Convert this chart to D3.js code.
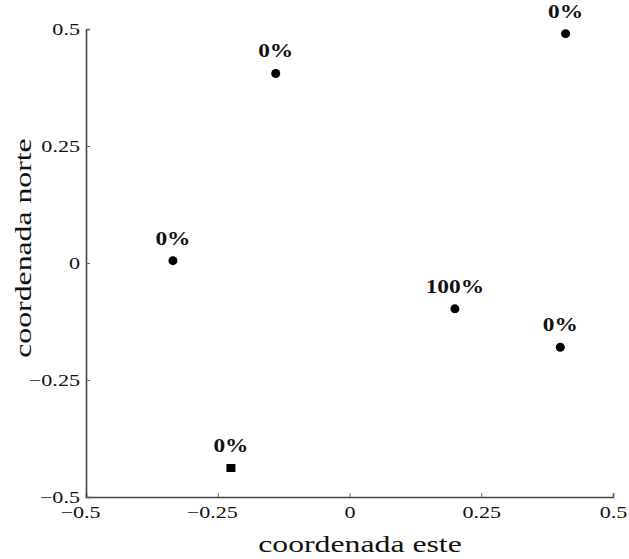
<!DOCTYPE html>
<html>
<head>
<meta charset="utf-8">
<script src="https://cdn.jsdelivr.net/npm/d3@7"></script>
<style>
  body { margin: 0; background: #fff; }
  svg text { font-family: "Liberation Serif", "DejaVu Serif", serif; fill: #111; }
</style>
</head>
<body>
<div id="chart"></div>
<script>
// points: east, north, label
var pointEast  = [-0.14, 0.41, -0.335, 0.20, 0.40];
var pointNorth = [0.405, 0.49, 0.005, -0.098, -0.18];
var pointLabel = ["0%", "0%", "0%", "100%", "0%"];
// the square marker
var squareEast = [-0.225], squareNorth = [-0.438], squareLabel = ["0%"];
// centre cross
var centreEast = [0], centreNorth = [0];
var tickValues = [-0.5, -0.25, 0, 0.25, 0.5];

var width = 629, height = 559,
  margins = {top: 29, left: 86, right: 16, bottom: 62};

var svg = d3.select("#chart").append("svg")
  .attr("width", width)
  .attr("height", height);

var x = d3.scaleLinear().domain([-0.5, 0.5]).range([0, width - margins.left - margins.right]);
var y = d3.scaleLinear().domain([-0.5, 0.5]).range([height - margins.top - margins.bottom, 0]);

var fmt = function (d) { return d === 0 ? "0" : (d < 0 ? "\u2212" : "") + Math.abs(d); };

// the original type is a wide serif, so widen every text a bit
function widen(sel, k) {
  sel.each(function () {
    var w = this.getComputedTextLength();
    d3.select(this).attr("textLength", w * k).attr("lengthAdjust", "spacingAndGlyphs");
  });
}

var g = svg.append("g")
  .attr("transform", "translate(" + margins.left + "," + margins.top + ")");

var xAxis = d3.axisBottom(x).tickValues(tickValues).tickSize(-4).tickPadding(9).tickFormat(fmt);
var yAxis = d3.axisLeft(y).tickValues(tickValues).tickSize(-4).tickPadding(6).tickFormat(fmt);

var xg = g.append("g")
  .attr("transform", "translate(0," + y(-0.5) + ")")
  .call(xAxis);
var yg = g.append("g").call(yAxis);

[xg, yg].forEach(function (a) {
  a.select(".domain").attr("stroke", "#444").attr("stroke-width", 1.6);
  a.selectAll(".tick line").attr("stroke", "#666");
  a.selectAll(".tick text")
    .style("font-family", "'Liberation Serif', serif")
    .style("font-size", "17px")
    .attr("fill", "#111");
  widen(a.selectAll(".tick text"), 1.3);
});
// minus sign hangs left of the centred number
xg.selectAll(".tick text").attr("dx", function (d) { return d < 0 ? -6 : 0; });

// axis titles
svg.append("text")
  .attr("x", 360)
  .attr("y", 552)
  .attr("text-anchor", "middle")
  .style("font-size", "23px")
  .text("coordenada este")
  .call(widen, 1.38);

svg.append("text")
  .attr("transform", "translate(31,248) rotate(-90)")
  .attr("text-anchor", "middle")
  .style("font-size", "23px")
  .text("coordenada norte")
  .call(widen, 1.38);

var pts = pointEast.map(function (e, i) { return {x: e, y: pointNorth[i], label: pointLabel[i]}; });
var sq = squareEast.map(function (e, i) { return {x: e, y: squareNorth[i], label: squareLabel[i]}; });

g.selectAll("circle.pt")
  .data(pts)
  .enter().append("circle")
  .attr("class", "pt")
  .attr("cx", function (d) { return x(d.x); })
  .attr("cy", function (d) { return y(d.y); })
  .attr("r", 4.5)
  .attr("fill", "#000");

g.selectAll("rect.sq")
  .data(sq)
  .enter().append("rect")
  .attr("class", "sq")
  .attr("x", function (d) { return x(d.x) - 4.5; })
  .attr("y", function (d) { return y(d.y) - 4; })
  .attr("width", 9)
  .attr("height", 8)
  .attr("fill", "#000");

g.selectAll("text.lbl")
  .data(pts.concat(sq))
  .enter().append("text")
  .attr("class", "lbl")
  .attr("x", function (d) { return x(d.x); })
  .attr("y", function (d) { return y(d.y) - 16; })
  .attr("text-anchor", "middle")
  .style("font-size", "18px")
  .style("font-weight", "bold")
  .call(function (s) { s.text(function (d) { return d.label; }); })
  .call(widen, 1.3);

// centre marker
var cross = d3.symbol().type(d3.symbolX).size(30);
g.selectAll("path.centre")
  .data(centreEast.map(function (e, i) { return {x: e, y: centreNorth[i]}; }))
  .enter().append("path")
  .attr("class", "centre")
  .attr("transform", function (d) { return "translate(" + x(d.x) + "," + y(d.y) + ")"; })
  .attr("d", cross)
  .attr("fill", "#222");
</script>
</body>
</html>
